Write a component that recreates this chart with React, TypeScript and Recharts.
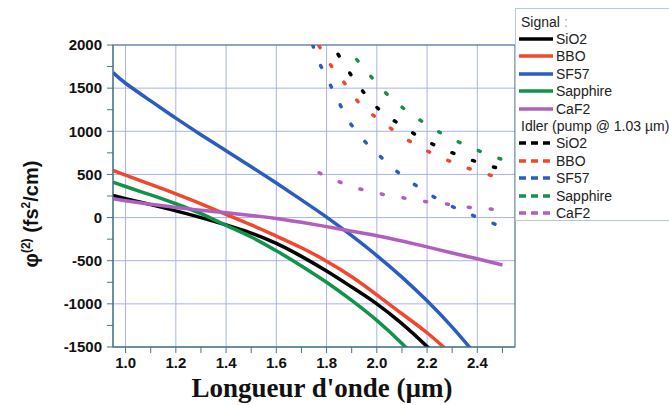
import { CartesianGrid, Line, LineChart, ReferenceArea, XAxis, YAxis } from "recharts"

// signal curves, sampled on one wavelength grid (µm), fs²/cm
const wavelengths = [0.95, 1.0, 1.1, 1.2, 1.3, 1.4, 1.5, 1.6, 1.7, 1.8, 1.9, 2.0, 2.1, 2.2, 2.3, 2.4, 2.5]
const sio2 = [255, 220, 150, 78, 0, -85, -180, -300, -450, -620, -805, -1000, -1230, -1495, -1790, null, null]
const bbo = [548, 492, 385, 275, 160, 38, -85, -215, -350, -505, -685, -895, -1115, -1335, -1590, null, null]
const sf57 = [1680, 1557, 1352, 1152, 960, 775, 590, 400, 205, 5, -210, -440, -690, -965, -1270, -1610, null]
const sapphire = [411, 360, 262, 160, 45, -90, -225, -385, -560, -750, -960, -1192, -1460, -1760, null, null, null]
const caf2 = [219, 195, 155, 118, 85, 55, 25, -10, -55, -105, -158, -210, -272, -340, -410, -478, -550]

// idler curves (pump @ 1.03 µm), each with its own wavelengths
const idlerSio2X = [1.8, 1.84, 1.88, 1.94, 2.01, 2.1, 2.18, 2.26, 2.34, 2.42, 2.5]
const idlerSio2 = [2110, 1920, 1730, 1480, 1250, 1065, 915, 800, 705, 625, 557]
const idlerBboX = [1.77, 1.81, 1.87, 1.93, 2.02, 2.1, 2.18, 2.26, 2.34, 2.42, 2.5]
const idlerBbo = [1990, 1795, 1564, 1326, 1114, 941, 803, 692, 595, 519, 450]
const idlerSf57X = [1.745, 1.76, 1.8, 1.84, 1.88, 1.94, 2.02, 2.1, 2.18, 2.26, 2.34, 2.42, 2.5]
const idlerSf57 = [2000, 1872, 1626, 1391, 1160, 923, 692, 488, 326, 185, 76, -20, -108]
const idlerSapphireX = [1.875, 1.89, 1.95, 2.02, 2.1, 2.18, 2.26, 2.34, 2.42, 2.5]
const idlerSapphire = [2050, 1961, 1730, 1491, 1280, 1114, 972, 857, 757, 672]
const idlerCaf2X = [1.77, 1.85, 1.93, 2.01, 2.1, 2.18, 2.26, 2.34, 2.42, 2.5]
const idlerCaf2 = [519, 415, 334, 277, 231, 191, 165, 127, 107, 88]

const xTicks = [1.0, 1.1, 1.2, 1.3, 1.4, 1.5, 1.6, 1.7, 1.8, 1.9, 2.0, 2.1, 2.2, 2.3, 2.4, 2.5]
const xGrid = [1.0, 1.2, 1.4, 1.6, 1.8, 2.0, 2.2, 2.4]
const yTicks = [-1500, -1250, -1000, -750, -500, -250, 0, 250, 500, 750, 1000, 1250, 1500, 1750, 2000]
const yGrid = [-1500, -1000, -500, 0, 500, 1000, 1500, 2000]

const materials = ["SiO2", "BBO", "SF57", "Sapphire", "CaF2"]
const colors = ["#000000", "#f2472d", "#2b5cc0", "#13924a", "#b05fbe"]

const toPoints = (xs: number[], ys: (number | null)[]) => xs.map((x, i) => ({ x, y: ys[i] }))

const signal = [sio2, bbo, sf57, sapphire, caf2].map((ys) => toPoints(wavelengths, ys))
const idler = [
  toPoints(idlerSio2X, idlerSio2),
  toPoints(idlerBboX, idlerBbo),
  toPoints(idlerSf57X, idlerSf57),
  toPoints(idlerSapphireX, idlerSapphire),
  toPoints(idlerCaf2X, idlerCaf2),
]

const axisColor = "#47768a"
const tickFont = { fontFamily: "'Liberation Sans', Arial, sans-serif", fontWeight: 700, fontSize: 15, fill: "#111" }

function XTitle(props: any) {
  const { viewBox } = props
  return (
    <text
      x={viewBox.x + viewBox.width / 2 + 8}
      y={397}
      textAnchor="middle"
      style={{ fontFamily: "'Liberation Serif', 'Times New Roman', serif", fontWeight: 700, fontSize: 27, fill: "#111" }}
    >
      Longueur d'onde (µm)
    </text>
  )
}

function YTitle() {
  return (
    <text
      transform="translate(38,214) rotate(-90)"
      textAnchor="middle"
      style={{ fontFamily: "'Liberation Sans', Arial, sans-serif", fontWeight: 700, fontSize: 20, fill: "#111" }}
    >
      <tspan>φ</tspan>
      <tspan dy={-8} fontSize={12}>(2)</tspan>
      <tspan dy={8}> (fs</tspan>
      <tspan dy={-8} fontSize={12}>2</tspan>
      <tspan dy={8}>/cm)</tspan>
    </text>
  )
}

function LegendRow({ color, dashed }: { color: string; dashed?: boolean }) {
  return (
    <svg width={36} height={10} style={{ marginRight: 2 }}>
      <line x1={1} y1={5} x2={35} y2={5} stroke={color} strokeWidth={3.5} strokeDasharray={dashed ? "7 5" : undefined} />
    </svg>
  )
}

function ChartLegend() {
  const row = { display: "flex", alignItems: "center", height: 17.4, whiteSpace: "nowrap" as const }
  return (
    <div
      style={{
        position: "absolute",
        left: 515,
        top: 8,
        width: 170,
        height: 213,
        border: "1px solid #b4cad6",
        background: "#fff",
        boxSizing: "border-box",
        paddingTop: 4,
        paddingLeft: 2,
        fontFamily: "'Liberation Sans', Arial, sans-serif",
        fontSize: 14,
        color: "#222",
        overflow: "hidden",
      }}
    >
      <div style={{ ...row, paddingLeft: 3 }}>
        Signal <span style={{ color: "#7fb3d5", marginLeft: 4 }}>:</span>
      </div>
      {materials.map((m, i) => (
        <div key={"s" + m} style={row}>
          <LegendRow color={colors[i]} />
          {m}
        </div>
      ))}
      <div style={{ ...row, paddingLeft: 3 }}>Idler (pump @ 1.03 µm)</div>
      {materials.map((m, i) => (
        <div key={"i" + m} style={row}>
          <LegendRow color={colors[i]} dashed />
          {m}
        </div>
      ))}
    </div>
  )
}

export default function App() {
  return (
    <div style={{ position: "absolute", left: 0, top: 0, width: 669, height: 405, background: "#fff" }}>
      <LineChart width={669} height={405} margin={{ top: 45, right: 154, bottom: 28, left: 53 }}>
        <CartesianGrid stroke="#a9b2ef" strokeWidth={1} verticalValues={xGrid} horizontalValues={yGrid} />
        <XAxis
          dataKey="x"
          type="number"
          domain={[0.95, 2.55]}
          allowDataOverflow
          ticks={xTicks}
          interval={0}
          height={30}
          stroke={axisColor}
          tickSize={6}
          tickMargin={4}
          tick={tickFont}
          tickFormatter={(v: number) => (Math.round(v * 10) % 2 === 0 && v < 2.45 ? v.toFixed(1) : "")}
          label={<XTitle />}
        />
        <XAxis
          xAxisId="top"
          orientation="top"
          dataKey="x"
          type="number"
          domain={[0.95, 2.55]}
          allowDataOverflow
          ticks={xTicks}
          interval={0}
          height={0}
          mirror
          axisLine={false}
          stroke={axisColor}
          tickSize={5}
          tickFormatter={() => ""}
        />
        <YAxis
          type="number"
          domain={[-1500, 2000]}
          allowDataOverflow
          ticks={yTicks}
          interval={0}
          width={60}
          stroke={axisColor}
          tickSize={6}
          tickMargin={5}
          tick={tickFont}
          tickFormatter={(v: number) => (v % 500 === 0 ? String(v) : "")}
          label={<YTitle />}
        />
        <ReferenceArea x1={0.95} x2={2.55} y1={-1500} y2={2000} fill="none" stroke={axisColor} strokeWidth={1.2} />
        {signal.map((pts, i) => (
          <Line
            key={"sig" + materials[i]}
            data={pts}
            dataKey="y"
            type="natural"
            stroke={colors[i]}
            strokeWidth={3.5}
            dot={false}
            activeDot={false}
            isAnimationActive={false}
          />
        ))}
        {idler.map((pts, i) => (
          <Line
            key={"idl" + materials[i]}
            data={pts}
            dataKey="y"
            type="monotone"
            stroke={colors[i]}
            strokeWidth={3.5}
            strokeDasharray="2 20"
            strokeLinecap="round"
            dot={false}
            activeDot={false}
            isAnimationActive={false}
          />
        ))}
      </LineChart>
      <ChartLegend />
    </div>
  )
}
